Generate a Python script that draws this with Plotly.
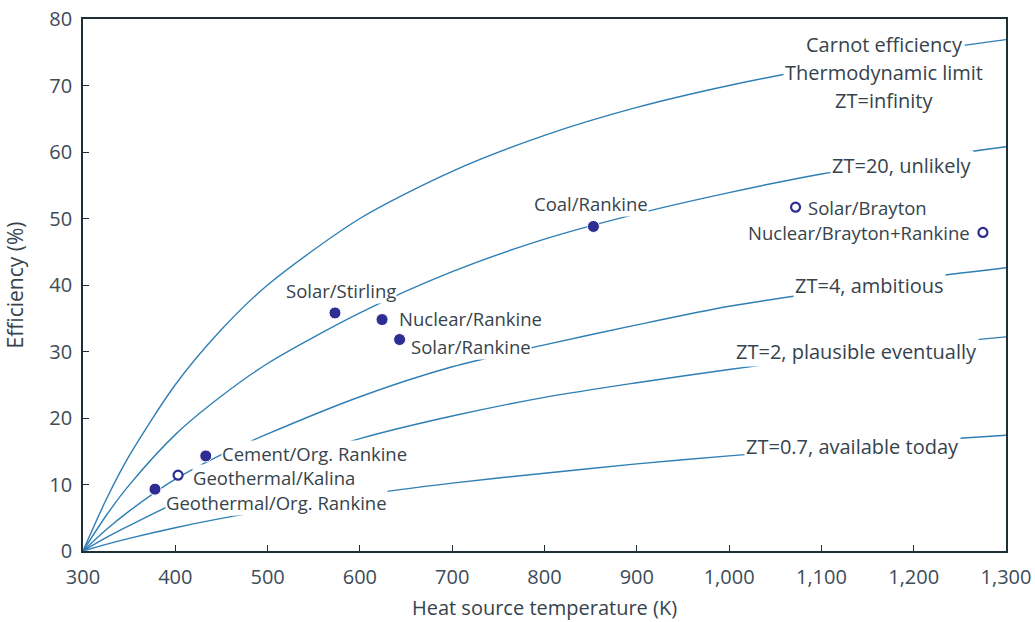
import plotly.graph_objects as go

# Heat source temperature grid (K) at which curve values were read
temps = [300, 325, 350, 400, 450, 500, 600, 700, 800, 900, 1000, 1100, 1200, 1300]

# Efficiency (%)
carnot = [0, 7.7, 14.3, 25.0, 33.3, 40.0, 50.0, 57.1, 62.5, 66.7, 70.0, 72.7, 75.0, 76.9]
zt20 = [0, 5.3, 9.9, 17.5, 23.3, 28.2, 35.8, 42.0, 46.9, 50.7, 53.9, 56.7, 58.9, 60.8]
zt4 = [0, 3.2, 6.0, 10.8, 14.5, 17.6, 23.2, 27.7, 31.0, 34.0, 36.8, 38.9, 40.9, 42.6]
zt2 = [0, 2.0, 3.8, 7.2, 10.0, 12.4, 16.9, 20.3, 23.1, 25.3, 27.3, 29.1, 30.8, 32.2]
zt07 = [0, 1.0, 1.9, 3.5, 4.9, 6.1, 8.4, 10.2, 11.7, 13.1, 14.3, 15.4, 16.5, 17.4]

# Existing power-generation technologies
filled_names = ["Geothermal/Org. Rankine", "Cement/Org. Rankine", "Solar/Stirling",
                "Nuclear/Rankine", "Solar/Rankine", "Coal/Rankine"]
filled_t = [378, 433, 573, 624, 643, 853]
filled_eff = [9.3, 14.3, 35.8, 34.8, 31.8, 48.8]

open_names = ["Geothermal/Kalina", "Solar/Brayton", "Nuclear/Brayton+Rankine"]
open_t = [403, 1072, 1275]
open_eff = [11.4, 51.7, 47.9]

# Curve labels: text, x, y
curve_labels = ["Carnot efficiency", "Thermodynamic limit", "ZT=infinity",
                "ZT=20, unlikely", "ZT=4, ambitious",
                "ZT=2, plausible eventually", "ZT=0.7, available today"]
curve_label_x = [1168, 1168, 1168, 1187, 1152, 1138, 1134]
curve_label_y = [76.1, 72.0, 67.8, 58.0, 40.0, 30.0, 15.7]

# Point labels: text, x, y, anchor
point_labels = ["Coal/Rankine", "Solar/Stirling", "Nuclear/Rankine", "Solar/Rankine",
                "Geothermal/Org. Rankine", "Geothermal/Kalina", "Cement/Org. Rankine",
                "Solar/Brayton", "Nuclear/Brayton+Rankine"]
point_label_x = [850, 580, 641, 654, 389, 418, 450, 1084, 1262]
point_label_y = [52.3, 39.1, 35.0, 30.7, 7.3, 11.0, 14.7, 51.7, 47.9]
point_label_anchor = ["center", "center", "left", "left", "left", "left", "left", "left", "right"]

LINE = "#2f7fb5"
MARK = "#2e2d94"
TEXT = "#36434c"
FONT = "Open Sans"

fig = go.Figure()
for vals in [carnot, zt20, zt4, zt2, zt07]:
    fig.add_trace(go.Scatter(x=temps, y=vals, mode="lines",
                             line=dict(color=LINE, width=1.4, shape="spline", smoothing=0.8),
                             hoverinfo="skip", showlegend=False))

fig.add_trace(go.Scatter(x=filled_t, y=filled_eff, mode="markers", text=filled_names,
                         marker=dict(color=MARK, size=12, line=dict(color="white", width=1)),
                         showlegend=False))
fig.add_trace(go.Scatter(x=open_t, y=open_eff, mode="markers", text=open_names,
                         marker=dict(color="white", size=9, line=dict(color=MARK, width=2.2)),
                         showlegend=False))

for txt, x, y in zip(curve_labels, curve_label_x, curve_label_y):
    fig.add_annotation(x=x, y=y, text=txt, showarrow=False, xanchor="center", yanchor="middle",
                       bgcolor="white", borderpad=1,
                       font=dict(family=FONT, size=20, color=TEXT))

for txt, x, y, a in zip(point_labels, point_label_x, point_label_y, point_label_anchor):
    fig.add_annotation(x=x, y=y, text=txt, showarrow=False, xanchor=a, yanchor="middle",
                       bgcolor="white", borderpad=0,
                       font=dict(family=FONT, size=18.5, color=TEXT))

axis_common = dict(showgrid=False, zeroline=False, showline=True, linecolor="#1f2f36",
                   linewidth=1.6, mirror=True, ticks="inside", ticklen=6, tickwidth=1.4,
                   tickcolor="#1f2f36", automargin=False, ticklabeloverflow="allow",
                   tickfont=dict(family=FONT, size=20, color="#3d4c57"))

fig.update_xaxes(range=[300, 1300], dtick=100, tickformat=",", ticklabelstandoff=7,
                 title=dict(text="Heat source temperature (K)", standoff=12,
                            font=dict(family=FONT, size=20, color=TEXT)),
                 **axis_common)
fig.update_yaxes(range=[0, 80], dtick=10, ticklabelstandoff=5,
                 title=dict(text="Efficiency (%)", standoff=20,
                            font=dict(family=FONT, size=21, color=TEXT)),
                 **axis_common)

fig.update_layout(width=1035, height=622, plot_bgcolor="white", paper_bgcolor="white",
                  margin=dict(l=83, r=29, t=19, b=71), font=dict(family=FONT))

# remove the default page margin so the figure fills the 1035x622 window
fig.write_html("out.html", config={"displayModeBar": False},
               post_script="document.body.style.margin='0';")
